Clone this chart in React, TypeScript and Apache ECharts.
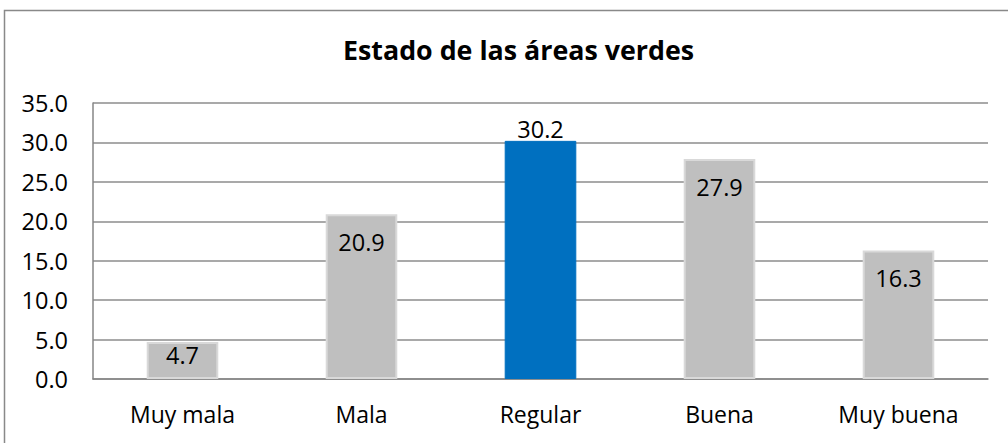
import React, { useEffect, useRef } from "react";
import * as echarts from "echarts";

const categories = ["Muy mala", "Mala", "Regular", "Buena", "Muy buena"];
const values = [4.7, 20.9, 30.2, 27.9, 16.3];
const highlightIndex = 2;
const yTicks = { min: 0, max: 35, interval: 5 };
const titleText = "Estado de las áreas verdes";

const FONT = "'Open Sans', 'Liberation Sans', sans-serif";

export default function App() {
  const ref = useRef<HTMLDivElement>(null);
  useEffect(() => {
    if (!ref.current) return;
    const chart = echarts.init(ref.current, undefined, { renderer: "svg" });
    const data = values.map((v, i) => {
      const item: any = {
        value: v,
        itemStyle:
          i === highlightIndex
            ? { color: "#0070C0", borderColor: "#0070C0", borderWidth: 1 }
            : { color: "#BFBFBF", borderColor: "#D9D9D9", borderWidth: 2 },
      };
      if (i === highlightIndex) {
        item.label = { position: "top", distance: 0 };
      } else if (v < 8) {
        item.label = { position: "insideTop", distance: 1 };
      }
      return item;
    });
    chart.setOption({
      animation: false,
      title: {
        text: titleText,
        left: 338,
        top: 31,
        textStyle: { fontFamily: FONT, fontSize: 26.8, fontWeight: "bold", color: "#000" },
      },
      graphic: [
        {
          type: "rect",
          shape: { x: 4.5, y: 10.5, width: 1100, height: 500 },
          style: { fill: "none", stroke: "#898989", lineWidth: 1.5 },
          silent: true,
        },
      ],
      grid: { left: 93, top: 103, right: 20, bottom: 64 },
      xAxis: {
        type: "category",
        data: categories,
        axisTick: { show: false },
        axisLine: { lineStyle: { color: "#868686", width: 1.5 } },
        axisLabel: { fontFamily: FONT, fontSize: 23, color: "#000", margin: 23 },
      },
      yAxis: {
        type: "value",
        min: yTicks.min,
        max: yTicks.max,
        interval: yTicks.interval,
        axisLine: { show: true, lineStyle: { color: "#868686", width: 1.5 } },
        axisTick: { show: false },
        splitLine: { lineStyle: { color: "#8C8C8C", width: 1.5 } },
        axisLabel: {
          fontFamily: FONT,
          fontSize: 23.5,
          color: "#000",
          margin: 25,
          formatter: (v: number) => v.toFixed(1),
        },
      },
      series: [
        {
          type: "bar",
          data,
          barWidth: "40%",
          label: {
            show: true,
            position: "insideTop",
            distance: 16,
            fontFamily: FONT,
            fontSize: 23.5,
            color: "#000",
            formatter: (p: any) => p.value.toFixed(1),
          },
        },
      ],
    });
    return () => chart.dispose();
  }, []);
  return (
    <div
      ref={ref}
      style={{ position: "fixed", left: 0, top: 0, width: 1008, height: 443, background: "#fff" }}
    />
  );
}
